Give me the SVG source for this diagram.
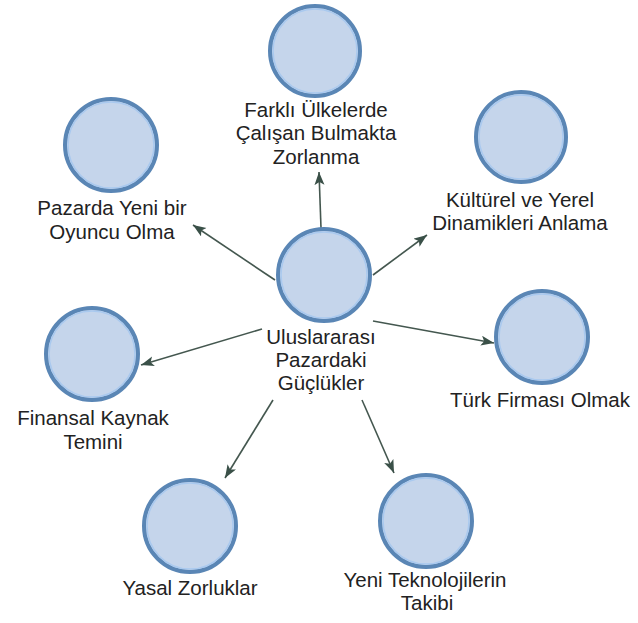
<svg xmlns="http://www.w3.org/2000/svg" width="638" height="623" viewBox="0 0 638 623">
<style>
.node circle.o{fill:#c5d5eb;stroke:#5a86b5;stroke-width:4}
.node circle.i{fill:none;stroke:#a9c9ef;stroke-width:1.5}
.node text{font-family:"Liberation Sans",Arial,sans-serif;font-size:20.5px;fill:#222;text-anchor:middle}
.edges line{stroke:#44574f;stroke-width:1.6;marker-end:url(#ah)}
</style>
<defs>
<marker id="ah" markerUnits="userSpaceOnUse" markerWidth="16" markerHeight="12" refX="13" refY="5" orient="auto">
<path d="M0,0 L13,5 L0,10 L3,5 Z" fill="#3a5048"/>
</marker>
</defs>
<rect width="638" height="623" fill="#fff"/>
<g class="edges">
<line x1="321" y1="228" x2="319" y2="172"/>
<line x1="373" y1="275" x2="427" y2="235"/>
<line x1="275" y1="280" x2="193" y2="225"/>
<line x1="373" y1="321" x2="494" y2="343"/>
<line x1="262" y1="329" x2="141" y2="365"/>
<line x1="273" y1="400" x2="225" y2="478"/>
<line x1="362" y1="400" x2="394" y2="473"/>
</g>
<g id="center" class="node">
<circle class="o" cx="324" cy="275" r="46"/><circle class="i" cx="324" cy="275" r="43"/>
<text x="321" y="344">Uluslararası</text><text x="321" y="367">Pazardaki</text><text x="321" y="390">Güçlükler</text>
</g>
<g id="n-farkli" class="node">
<circle class="o" cx="315" cy="51" r="45"/><circle class="i" cx="315" cy="51" r="42"/>
<text x="316" y="117">Farklı Ülkelerde</text><text x="316" y="140">Çalışan Bulmakta</text><text x="316" y="164">Zorlanma</text>
</g>
<g id="n-kulturel" class="node">
<circle class="o" cx="521" cy="137" r="45"/><circle class="i" cx="521" cy="137" r="42"/>
<text x="520" y="207">Kültürel ve Yerel</text><text x="520" y="230">Dinamikleri Anlama</text>
</g>
<g id="n-pazarda" class="node">
<circle class="o" cx="111" cy="145" r="46"/><circle class="i" cx="111" cy="145" r="43"/>
<text x="112" y="215">Pazarda Yeni bir</text><text x="112" y="239">Oyuncu Olma</text>
</g>
<g id="n-turk" class="node">
<circle class="o" cx="542" cy="337" r="46"/><circle class="i" cx="542" cy="337" r="43"/>
<text x="540" y="407">Türk Firması Olmak</text>
</g>
<g id="n-finansal" class="node">
<circle class="o" cx="92" cy="354" r="46"/><circle class="i" cx="92" cy="354" r="43"/>
<text x="93" y="425">Finansal Kaynak</text><text x="93" y="449">Temini</text>
</g>
<g id="n-yasal" class="node">
<circle class="o" cx="190" cy="526" r="46"/><circle class="i" cx="190" cy="526" r="43"/>
<text x="190" y="595">Yasal Zorluklar</text>
</g>
<g id="n-yeni" class="node">
<circle class="o" cx="426" cy="521" r="46"/><circle class="i" cx="426" cy="521" r="43"/>
<text x="425" y="587">Yeni Teknolojilerin</text><text x="427" y="610">Takibi</text>
</g>
</svg>
